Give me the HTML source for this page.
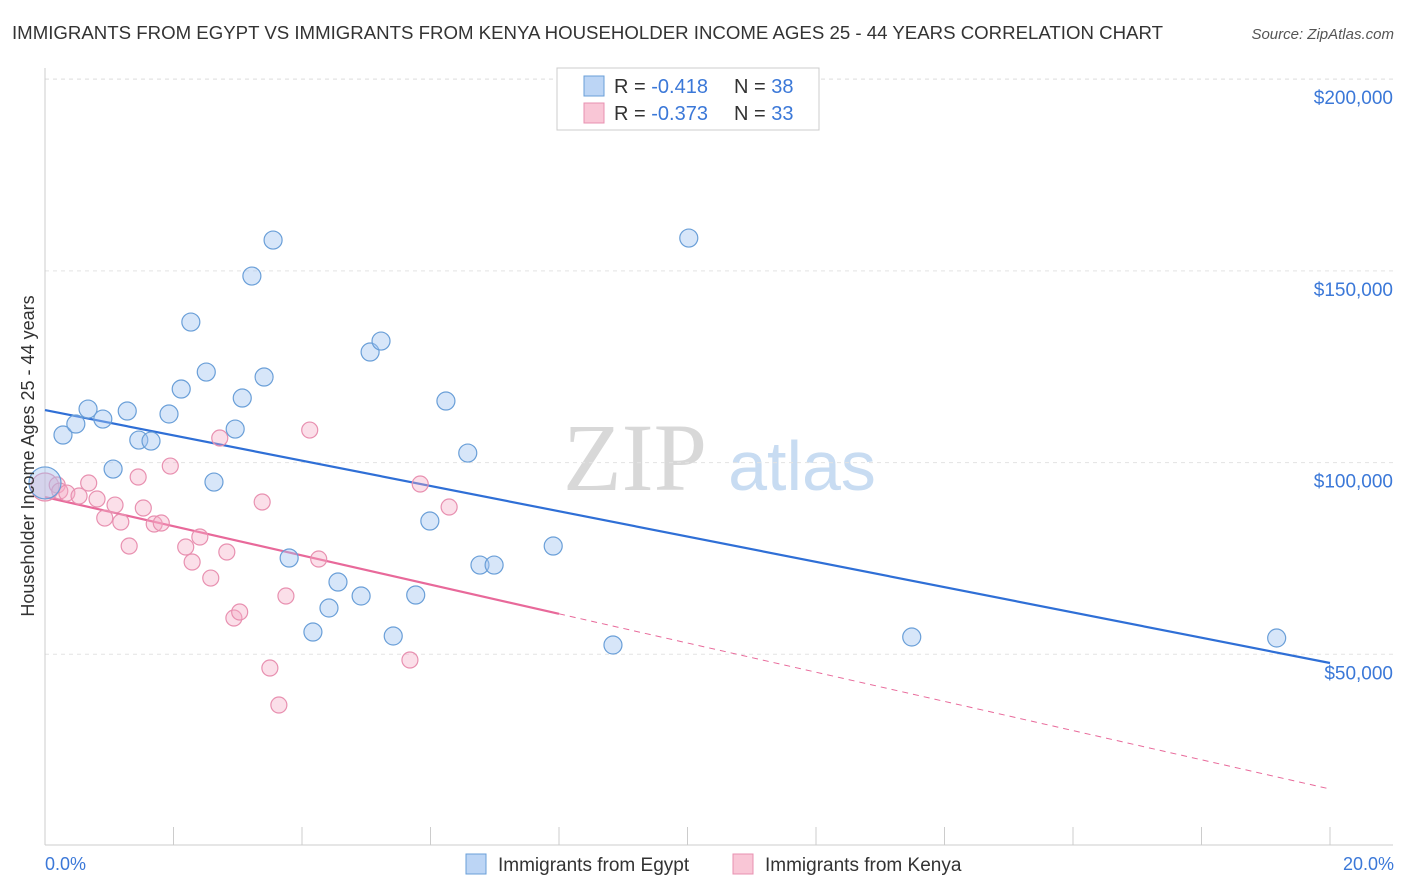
<!DOCTYPE html>
<html><head><meta charset="utf-8"><style>
body{margin:0;background:#fff;font-family:"Liberation Sans",sans-serif;}
</style></head><body>
<svg id="c" width="1406" height="892" xmlns="http://www.w3.org/2000/svg" style="display:block">
<text x="12" y="39" font-size="18" fill="#333" textLength="1151" lengthAdjust="spacingAndGlyphs">IMMIGRANTS FROM EGYPT VS IMMIGRANTS FROM KENYA HOUSEHOLDER INCOME AGES 25 - 44 YEARS CORRELATION CHART</text>
<text x="1394" y="39" font-size="15" font-style="italic" fill="#555" text-anchor="end">Source: ZipAtlas.com</text>
<g><text x="635" y="490" font-size="96" font-family="Liberation Serif,serif" fill="#d8d8d8" text-anchor="middle">ZIP</text><text x="802" y="490" font-size="70" fill="#c8dcf2" text-anchor="middle">atlas</text></g>
<g id="grid"></g><g id="axes"></g><g id="trends"></g><g id="pts"></g>
<text transform="translate(34,456) rotate(-90)" font-size="18" fill="#333" text-anchor="middle">Householder Income Ages 25 - 44 years</text>
<text x="45" y="870" font-size="18" fill="#3b78d8">0.0%</text>
<text x="1394" y="870" font-size="18" fill="#3b78d8" text-anchor="end">20.0%</text>
<g>
<rect x="557" y="68" width="262" height="62" fill="#fff" stroke="#ccc"/>
<rect x="584" y="76" width="20" height="20" fill="#bcd5f5" stroke="#6a9fd8"/>
<rect x="584" y="103" width="20" height="20" fill="#f9c6d6" stroke="#e890b0"/>
<text x="614" y="93" font-size="20" fill="#333">R = <tspan fill="#3b78d8">-0.418</tspan></text>
<text x="734" y="93" font-size="20" fill="#333">N = <tspan fill="#3b78d8">38</tspan></text>
<text x="614" y="120" font-size="20" fill="#333">R = <tspan fill="#3b78d8">-0.373</tspan></text>
<text x="734" y="120" font-size="20" fill="#333">N = <tspan fill="#3b78d8">33</tspan></text>
</g>
<g>
<rect x="466" y="854" width="20" height="20" fill="#bcd5f5" stroke="#6a9fd8"/>
<text x="498" y="871" font-size="19" fill="#333">Immigrants from Egypt</text>
<rect x="733" y="854" width="20" height="20" fill="#f9c6d6" stroke="#e890b0"/>
<text x="765" y="871" font-size="19" fill="#333">Immigrants from Kenya</text>
</g>
</svg>
<script>
const yTicks=[50000,100000,150000,200000];
const yTickLabels=["$50,000","$100,000","$150,000","$200,000"];
const xTicks=[0,2,4,6,8,10,12,14,16,18,20];
const egyptX=[0,0.28,0.48,0.67,0.90,1.06,1.28,1.46,1.65,1.93,2.12,2.27,2.51,2.63,2.96,3.07,3.22,3.41,3.55,3.80,4.17,4.42,4.56,4.92,5.06,5.23,5.42,5.77,5.99,6.24,6.58,6.77,6.99,7.91,8.84,10.02,13.49,19.17];
const egyptY=[94700,107190,110060,113970,111360,98320,113450,105880,105620,112670,119190,136660,123620,94930,108750,116840,148660,122320,158040,75110,55810,62070,68850,65200,128840,131700,54770,65460,84760,116060,102490,73280,73280,78240,52420,158570,54510,54250];
const kenyaX=[0,0.19,0.23,0.34,0.53,0.68,0.81,0.93,1.09,1.18,1.31,1.45,1.53,1.70,1.81,1.95,2.19,2.29,2.41,2.58,2.72,2.83,2.94,3.03,3.38,3.50,3.64,3.75,4.12,4.26,5.68,5.84,6.29];
const kenyaY=[93630,94150,92580,92060,91280,94670,90500,85540,88930,84500,78240,96240,88150,83980,84240,99100,77980,74070,80590,69890,106410,76680,59460,61030,89720,46420,36770,65200,108490,74850,48510,94410,88410];
const egyptTrend=[113700,47730];
const kenyaTrend=[91020,14870];
const kenyaSolidEnd=8;
const NS="http://www.w3.org/2000/svg";
const X=v=>45+v/20*1285, Y=v=>846-v/50000*191.7;
function mk(p,t,a){const e=document.createElementNS(NS,t);for(const k in a)e.setAttribute(k,a[k]);document.getElementById(p).appendChild(e);return e;}
yTicks.forEach((t,i)=>{
 const l=mk('grid','line',{x1:45,x2:1393,y1:Y(t),y2:Y(t),stroke:'#e3e3e3','stroke-dasharray':'4,4'});
 
 
 const tx=mk('grid','text',{x:1393,y:Y(t)+25,'font-size':19,fill:'#3b78d8','text-anchor':'end'});
 tx.textContent=yTickLabels[i];
 
 
});
const gt=mk('grid','line',{x1:45,x2:1393,y1:79,y2:79,stroke:'#e3e3e3','stroke-dasharray':'4,4'});


let a=mk('axes','line',{x1:45,x2:45,y1:68,y2:845,stroke:'#ccc'});


a=mk('axes','line',{x1:45,x2:1393,y1:845,y2:845,stroke:'#ccc'});


xTicks.forEach(t=>{const l=mk('axes','line',{x1:X(t),x2:X(t),y1:827,y2:845,stroke:'#ccc'});
 
 });
let t=mk('trends','line',{x1:X(0),y1:Y(egyptTrend[0]),x2:X(20),y2:Y(egyptTrend[1]),stroke:'#2f6fd6','stroke-width':2.2});


const ky=v=>kenyaTrend[0]+(kenyaTrend[1]-kenyaTrend[0])*v/20;
t=mk('trends','line',{x1:X(0),y1:Y(ky(0)),x2:X(kenyaSolidEnd),y2:Y(ky(kenyaSolidEnd)),stroke:'#e8699a','stroke-width':2.2});


t=mk('trends','line',{x1:X(kenyaSolidEnd),y1:Y(ky(kenyaSolidEnd)),x2:X(20),y2:Y(ky(20)),stroke:'#e8699a','stroke-width':1,'stroke-dasharray':'6,5'});


kenyaX.forEach((x,i)=>{const c=mk('pts','circle',{cx:X(x),cy:Y(kenyaY[i]),r:i==0?14:8,fill:'rgba(245,170,196,0.38)',stroke:'#e890b0','stroke-width':1.2});
 
 });
egyptX.forEach((x,i)=>{const c=mk('pts','circle',{cx:X(x),cy:Y(egyptY[i]),r:i==0?16:9,fill:'rgba(160,195,240,0.42)',stroke:'#6a9fd8','stroke-width':1.2});
 
 });
</script>
</body></html>
